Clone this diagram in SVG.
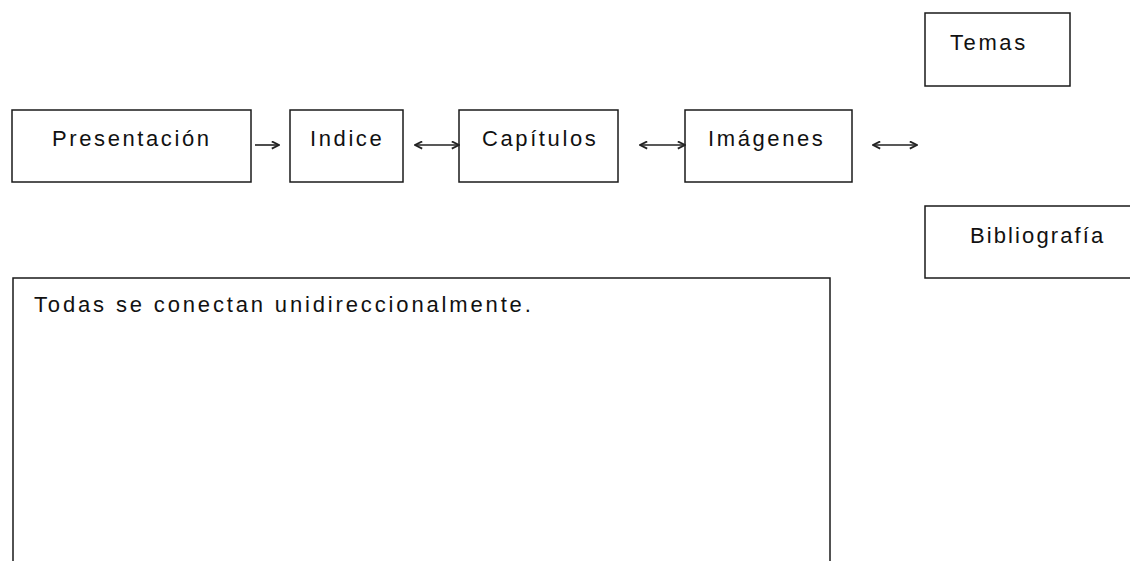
<svg xmlns="http://www.w3.org/2000/svg" width="1130" height="561" viewBox="0 0 1130 561">
<style>
.box{fill:#fff;stroke:#1a1a1a;stroke-width:1.5}
.lbl{font-family:"Liberation Sans",Arial,sans-serif;font-size:22px;letter-spacing:2.6px;fill:#111}
.con{stroke:#222;stroke-width:1.6;fill:none}
</style>
<defs>
<marker id="ah" viewBox="0 0 10 10" refX="9" refY="5" markerWidth="9" markerHeight="9" markerUnits="userSpaceOnUse" orient="auto-start-reverse">
<path d="M1,1 L9,5 L1,9" fill="none" stroke="#222" stroke-width="2"/>
</marker>
</defs>
<rect width="1130" height="561" fill="#fff"/>
<g id="presentacion"><rect class="box" x="12" y="110" width="239" height="72"/><text class="lbl" x="52" y="146">Presentación</text></g>
<g id="indice"><rect class="box" x="290" y="110" width="113" height="72"/><text class="lbl" x="310" y="146">Indice</text></g>
<g id="capitulos"><rect class="box" x="459" y="110" width="159" height="72"/><text class="lbl" x="482" y="146">Capítulos</text></g>
<g id="imagenes"><rect class="box" x="685" y="110" width="167" height="72"/><text class="lbl" x="708" y="146">Imágenes</text></g>
<g id="temas"><rect class="box" x="925" y="13" width="145" height="73"/><text class="lbl" x="950" y="50">Temas</text></g>
<g id="bibliografia"><rect class="box" x="925" y="206" width="210" height="72"/><text class="lbl" x="970" y="243" style="letter-spacing:2.1px">Bibliografía</text></g>
<g id="nota"><rect class="box" x="13" y="278" width="817" height="300"/><text class="lbl" x="34" y="312" style="letter-spacing:2.85px">Todas se conectan unidireccionalmente.</text></g>
<g id="connectors">
<line class="con" x1="255" y1="145" x2="279" y2="145" marker-end="url(#ah)"/>
<line class="con" x1="415" y1="145" x2="459" y2="145" marker-start="url(#ah)" marker-end="url(#ah)"/>
<line class="con" x1="640" y1="145" x2="685" y2="145" marker-start="url(#ah)" marker-end="url(#ah)"/>
<line class="con" x1="873" y1="145" x2="917" y2="145" marker-start="url(#ah)" marker-end="url(#ah)"/>
</g>
</svg>
